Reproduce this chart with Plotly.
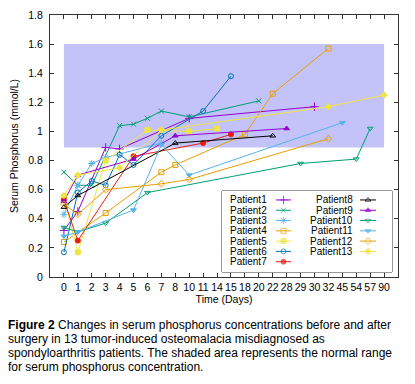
import plotly.graph_objects as go

# ---------------- data ----------------
days = ["0", "1", "2", "3", "4", "5", "6", "7", "8", "10", "11", "14", "15",
        "18", "20", "22", "28", "29", "30", "32", "45", "54", "57", "90"]

normal_low = 0.89
normal_high = 1.60

names = ["Patient1", "Patient2", "Patient3", "Patient4", "Patient5", "Patient6", "Patient7",
         "Patient8", "Patient9", "Patient10", "Patient11", "Patient12", "Patient13"]

p1_x = ["0", "1", "3", "4", "10", "30"]
p1_y = [0.32, 0.45, 0.89, 0.88, 1.09, 1.17]
p2_x = ["0", "1", "2", "4", "5", "6", "7", "10", "20"]
p2_y = [0.72, 0.63, 0.63, 1.04, 1.05, 1.09, 1.14, 1.10, 1.21]
p3_x = ["0", "1", "2", "3", "7"]
p3_y = [0.43, 0.63, 0.78, 0.82, 0.92]
p4_x = ["0", "3", "7", "8", "18", "22", "32"]
p4_y = [0.24, 0.44, 0.72, 0.77, 0.98, 1.26, 1.57]
p5_x = ["0", "1", "3", "6", "10", "14"]
p5_y = [0.55, 0.17, 0.80, 1.01, 1.00, 1.02]
p6_x = ["0", "1", "2", "3", "4", "5", "7", "11", "15"]
p6_y = [0.17, 0.58, 0.66, 0.63, 0.84, 0.77, 0.97, 1.14, 1.38]
p7_x = ["0", "1", "5", "11", "15"]
p7_y = [0.53, 0.25, 0.83, 0.92, 0.98]
p8_x = ["0", "1", "8", "22"]
p8_y = [0.48, 0.56, 0.92, 0.97]
p9_x = ["0", "1", "5", "8", "28"]
p9_y = [0.52, 0.70, 0.81, 0.97, 1.02]
p10_x = ["0", "1", "3", "6", "29", "54", "57"]
p10_y = [0.34, 0.31, 0.37, 0.58, 0.78, 0.81, 1.02]
p11_x = ["0", "1", "5", "7", "10", "45"]
p11_y = [0.28, 0.31, 0.46, 0.91, 0.70, 1.06]
p12_x = ["0", "1", "3", "7", "10", "32"]
p12_y = [0.50, 0.43, 0.60, 0.64, 0.67, 0.95]
p13_x = ["0", "1", "4", "7", "32", "90"]
p13_y = [0.56, 0.70, 0.75, 1.01, 1.17, 1.25]

series_x = [p1_x, p2_x, p3_x, p4_x, p5_x, p6_x, p7_x, p8_x, p9_x, p10_x, p11_x, p12_x, p13_x]
series_y = [p1_y, p2_y, p3_y, p4_y, p5_y, p6_y, p7_y, p8_y, p9_y, p10_y, p11_y, p12_y, p13_y]

# ---------------- styles ----------------
colors = ["#9400d3", "#009e73", "#56b4e9", "#e69f00", "#f0e442", "#0072b2", "#e51e10",
          "#000000", "#9400d3", "#009e73", "#56b4e9", "#e69f00", "#f0e442"]
symbols = ["cross-thin-open", "x-thin-open", "asterisk-open", "square-open", "square",
           "circle-open", "circle", "triangle-up-open", "triangle-up", "triangle-down-open",
           "triangle-down", "diamond-open", "diamond"]
sizes = [6, 5, 6, 5, 5, 5, 5, 5, 5, 5, 5, 5, 5]

FONT = "Liberation Sans, Arial, sans-serif"
BODY = 8                      # default page body margin of the html page
W, H = 415 - BODY, 384 - 2 * BODY
PLOT_L, PLOT_R, PLOT_T, PLOT_B = 50, 398, 15, 277   # target page pixels
ML, MT = PLOT_L - BODY, PLOT_T - BODY
MR = W - (PLOT_R - BODY)
MB = H - (PLOT_B - BODY)
PW, PH = W - ML - MR, H - MT - MB

def px_x(px):
    return (px - PLOT_L) / PW

def px_y(py):
    return (PLOT_B - py) / PH

fig = go.Figure()

# normal range band
fig.add_trace(go.Scatter(
    x=[days[0], days[-1], days[-1], days[0], days[0]],
    y=[normal_low, normal_low, normal_high, normal_high, normal_low],
    fill="toself", fillcolor="#c3c3fa", mode="lines", line=dict(width=0),
    showlegend=False, hoverinfo="skip"))

for i, name in enumerate(names):
    fig.add_trace(go.Scatter(
        x=series_x[i], y=series_y[i], name=name, mode="lines+markers",
        line=dict(color=colors[i], width=1),
        marker=dict(symbol=symbols[i], size=sizes[i], color=colors[i],
                    line=dict(color=colors[i], width=1)),
        showlegend=False))

# ---------------- custom legend (gnuplot style key) ----------------
box_l, box_r, box_t, box_b = 222, 392, 191, 272
rows_per_col = 7
text_right = [47, 133]
sample_x = [(54, 69), (138, 154)]

for i, name in enumerate(names):
    col, row = divmod(i, rows_per_col)
    x0, x1 = sample_x[col]
    fig.add_trace(go.Scatter(
        x=[x0, (x0 + x1) / 2, x1], y=[row, row, row], mode="lines+markers",
        line=dict(color=colors[i], width=1),
        marker=dict(symbol=symbols[i], size=[0, sizes[i], 0], color=colors[i],
                    line=dict(color=colors[i], width=1)),
        xaxis="x2", yaxis="y2", showlegend=False, hoverinfo="skip"))
    fig.add_annotation(x=text_right[col], y=row, xref="x2", yref="y2", text=name,
                       showarrow=False, xanchor="right", yanchor="middle",
                       font=dict(family=FONT, size=10, color="black"))

fig.add_shape(type="rect", xref="x2 domain", yref="y2 domain", x0=0, x1=1, y0=0, y1=1,
              line=dict(color="#333", width=1), fillcolor="white", layer="below")

# ---------------- caption ----------------
caption = ["<b>Figure 2</b> Changes in serum phosphorus concentrations before and after",
           "surgery in 13 tumor-induced osteomalacia misdiagnosed as",
           "spondyloarthritis patients. The shaded area represents the normal range",
           "for serum phosphorus concentration."]
cap_y = [325, 339, 353, 367]
for line, yc in zip(caption, cap_y):
    fig.add_annotation(x=px_x(6), y=px_y(yc), xref="paper", yref="paper", text=line,
                       showarrow=False, xanchor="left", yanchor="middle",
                       font=dict(family=FONT, size=12, color="black"))

axis_common = dict(showline=True, linecolor="#333", linewidth=1, mirror="ticks",
                   ticks="inside", ticklen=4, tickcolor="#333", showgrid=False,
                   zeroline=False, automargin=False, ticklabeloverflow="allow",
                   tickfont=dict(family=FONT, size=10.5, color="black"))

fig.update_layout(
    width=W, height=H, margin=dict(l=ML, r=MR, t=MT, b=MB, autoexpand=False),
    paper_bgcolor="white", plot_bgcolor="white",
    font=dict(family=FONT, size=10.5, color="black"),
    showlegend=False,
    xaxis=dict(type="category", categoryorder="array", categoryarray=days,
               range=[-1, 24], tickangle=0,
               title=dict(text="Time (Days)", standoff=3,
                          font=dict(family=FONT, size=10.5)),
               **axis_common),
    yaxis=dict(range=[0, 1.8], tick0=0, dtick=0.2, ticklabelstandoff=4,
               title=dict(text="Serum Phosphorus (mmol/L)", standoff=12,
                          font=dict(family=FONT, size=10.5)),
               **axis_common),
    xaxis2=dict(domain=[px_x(box_l), px_x(box_r)], anchor="y2", range=[0, box_r - box_l],
                visible=False, fixedrange=True, automargin=False),
    yaxis2=dict(domain=[px_y(box_b), px_y(box_t)], anchor="x2", range=[7.0, -0.87],
                visible=False, fixedrange=True, automargin=False),
)

fig.write_html("out.html")
